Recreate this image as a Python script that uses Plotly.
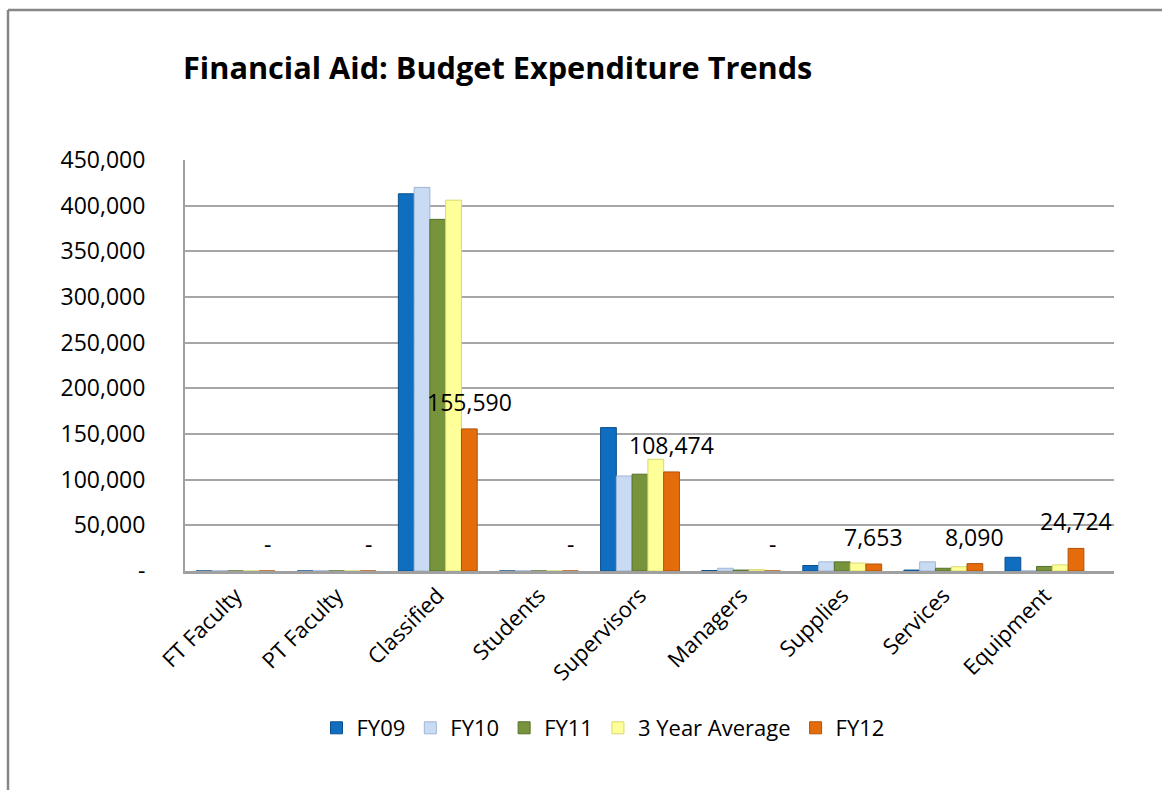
import plotly.graph_objects as go

categories = ["FT Faculty", "PT Faculty", "Classified", "Students", "Supervisors",
              "Managers", "Supplies", "Services", "Equipment"]
fy09 = [0, 0, 413000, 0, 157000, 500, 6000, 1000, 15000]
fy10 = [0, 0, 420000, 0, 104000, 3000, 10000, 10000, 0]
fy11 = [0, 0, 385000, 0, 106000, 1000, 10000, 3000, 5000]
avg3 = [0, 0, 406000, 0, 122300, 1500, 8700, 4700, 6700]
fy12 = [0, 0, 155590, 0, 108474, 0, 7653, 8090, 24724]
series_names = ["FY09", "FY10", "FY11", "3 Year Average", "FY12"]
y_tick_vals = [0, 50000, 100000, 150000, 200000, 250000, 300000, 350000, 400000, 450000]
y_tick_text = ["-", "50,000", "100,000", "150,000", "200,000", "250,000",
               "300,000", "350,000", "400,000", "450,000"]
title_text = "Financial Aid: Budget Expenditure Trends"

colors = ["#0F6EC0", "#C9DBF2", "#77933C", "#FFFF99", "#E46C0A"]
line_colors = ["#0A4F8C", "#9DB5D6", "#55702A", "#D8D870", "#B0520A"]

W, H = 1162, 790
ML, MR, MT, MB = 185, 48, 160, 219
BARGAP = 0.22
FONT = "Open Sans"

fig = go.Figure()
all_series = [fy09, fy10, fy11, avg3, fy12]
for name, vals, c, lc in zip(series_names, all_series, colors, line_colors):
    fig.add_trace(go.Bar(
        x=categories, y=vals, name=name,
        marker=dict(color=c, line=dict(color=lc, width=1)),
    ))

# data labels for FY12 (last series)
n = len(all_series)
bar_w = (1 - BARGAP) / n
offset = (n - 1) / 2 * bar_w
for i, v in enumerate(fy12):
    txt = f"{v:,}" if v else "-"
    fig.add_annotation(
        x=i + offset, y=v, xref="x", yref="y", text=txt, showarrow=False,
        yshift=27, font=dict(family=FONT, size=23, color="#000000"),
    )

def px_x(p):
    return (p - ML) / (W - ML - MR)

def px_y(p):
    return 1 - (p - MT) / (H - MT - MB)

shapes = [
    dict(type="line", xref="paper", yref="paper", x0=px_x(8), x1=px_x(W + 5),
         y0=px_y(10), y1=px_y(10), line=dict(color="#878787", width=2.5)),
    dict(type="line", xref="paper", yref="paper", x0=px_x(8), x1=px_x(8),
         y0=px_y(10), y1=px_y(H + 5), line=dict(color="#878787", width=2.5)),
]

fig.update_layout(
    width=W, height=H,
    margin=dict(l=ML, r=MR, t=MT, b=MB, pad=0),
    paper_bgcolor="white", plot_bgcolor="white",
    barmode="group", bargap=BARGAP, bargroupgap=0,
    title=dict(text=f"<b>{title_text}</b>", xref="container", yref="container",
               x=183 / W, xanchor="left", y=1 - 68 / H, yanchor="middle",
               font=dict(family=FONT, size=30.7, color="#000000")),
    font=dict(family=FONT, size=21, color="#000000"),
    xaxis=dict(tickangle=-45, showgrid=False, showline=True, linecolor="#A0A0A0",
               linewidth=3, ticks="", tickfont=dict(family=FONT, size=22, color="#000")),
    yaxis=dict(range=[0, 450000], tickvals=y_tick_vals, ticktext=y_tick_text,
               showgrid=True, gridcolor="#A6A6A6", gridwidth=2,
               showline=True, linecolor="#A0A0A0", linewidth=2, zeroline=False,
               ticks="", ticklabelstandoff=33,
               tickfont=dict(family=FONT, size=23, color="#000")),
    legend=dict(orientation="h", x=0.5 * (318 + 888) / W, xref="container",
                xanchor="center", y=1 - 728 / H, yref="container", yanchor="middle",
                font=dict(family=FONT, size=22, color="#000"), itemwidth=30,
                traceorder="normal"),
    shapes=shapes,
    showlegend=True,
)

fig.write_html("out.html")
